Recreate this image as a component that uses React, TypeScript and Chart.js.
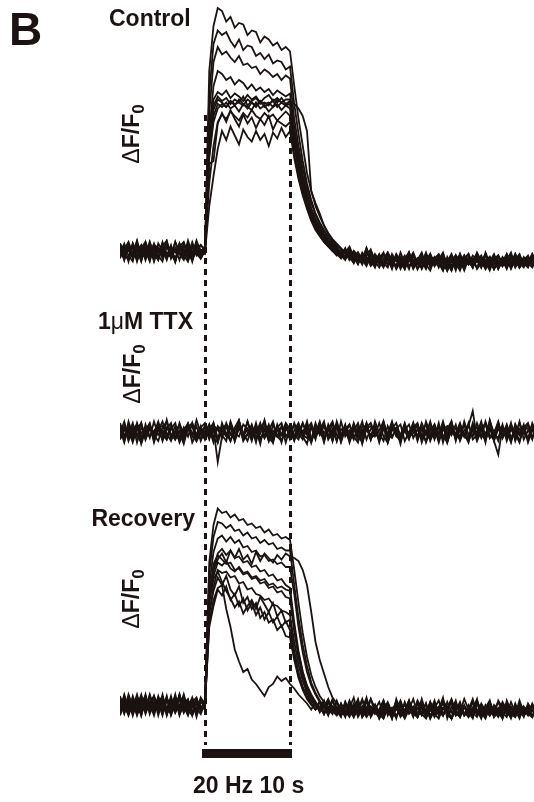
import React, { useEffect, useRef } from "react";
import { Chart, registerables } from "chart.js";

Chart.register(...registerables);

// ---- time axis (s); stimulus 20 Hz for 10 s starting at t = 0 ----
const TIME = [-10, -9.5, -9, -8.5, -8, -7.5, -7, -6.5, -6, -5.5, -5, -4.5, -4, -3.5, -3, -2.5, -2, -1.5, -1, -0.5, 0, 0.5, 1, 1.5, 2, 2.5, 3, 3.5, 4, 4.5, 5, 5.5, 6, 6.5, 7, 7.5, 8, 8.5, 9, 9.5, 10, 10.5, 11, 11.5, 12, 12.5, 13, 13.5, 14, 14.5, 15, 15.5, 16, 16.5, 17, 17.5, 18, 18.5, 19, 19.5, 20, 20.5, 21, 21.5, 22, 22.5, 23, 23.5, 24, 24.5, 25, 25.5, 26, 26.5, 27, 27.5, 28, 28.5, 29, 29.5, 30, 30.5, 31, 31.5, 32, 32.5, 33, 33.5, 34, 34.5, 35, 35.5, 36, 36.5, 37, 37.5, 38, 38.5, 39];
const STIM = [0, 10];

// ---- Control traces (ΔF/F0, %) ----
const CONTROL_1 = [3, -6, 5, -2, 7, -4, 1, -7, 4, 0, -3, 6, -5, 2, -1, 5, -6, 3, -2, 4, 1, 120, 150, 162, 160, 153, 156, 149, 152, 151, 144, 147, 146, 139, 143, 141, 137, 139, 134, 136, 133, 110, 88, 70, 52, 40, 30, 23, 17, 12, 8, 5, 2, -1, 3, -4, -1, -6, 2, -5, -8, -3, -9, -2, -7, -11, -4, -8, -1, -10, -5, -7, -12, -3, -9, -6, -1, -10, -4, -8, -13, -5, -2, -9, -6, -11, -3, -8, -5, -12, -7, -2, -9, -6, -10, -4, -8, -11, -5];
const CONTROL_2 = [-4, 2, -7, 5, -1, 3, -5, 6, -2, -6, 4, -3, 1, -7, 5, -2, 3, -4, 6, -1, -2, 105, 138, 147, 144, 146, 140, 136, 141, 134, 137, 136, 130, 132, 128, 131, 125, 127, 126, 121, 123, 98, 78, 60, 45, 34, 25, 19, 14, 9, 6, 3, -2, 1, -5, 0, -3, -7, 2, -6, -4, -9, -2, -6, -10, -3, -8, -5, -1, -11, -6, -4, -9, -13, -5, -2, -8, -7, -11, -3, -6, -10, -4, -8, -1, -7, -12, -5, -9, -3, -8, -6, -11, -2, -7, -9, -4, -10, -6];
const CONTROL_3 = [5, -1, -5, 3, -7, 2, 6, -3, 0, -6, 3, 7, -4, 1, -2, -6, 4, -1, 5, -3, 2, 92, 126, 136, 131, 133, 129, 126, 130, 124, 125, 122, 123, 118, 121, 119, 116, 118, 114, 117, 115, 88, 70, 55, 42, 32, 24, 18, 13, 9, 5, 2, -1, -4, 2, -6, -2, -8, -3, 1, -7, -5, -10, -2, -8, -4, -12, -6, -1, -9, -5, -7, -3, -11, -6, -8, -2, -10, -5, -13, -4, -7, -9, -3, -6, -11, -1, -8, -5, -10, -7, -4, -12, -6, -2, -9, -5, -8, -11];
const CONTROL_4 = [-5, 3, 1, -4, 6, -6, 2, -2, 5, -3, -7, 4, 0, -5, 3, 6, -2, -6, 1, 4, 0, 80, 110, 120, 118, 114, 116, 111, 114, 112, 108, 111, 107, 109, 106, 108, 104, 107, 105, 103, 105, 82, 65, 50, 38, 28, 21, 15, 11, 7, 4, 1, -3, 2, -5, -1, -7, -3, -9, 0, -6, -4, -8, -11, -2, -7, -5, -10, -3, -6, -12, -8, -1, -9, -5, -4, -11, -7, -2, -10, -6, -13, -5, -8, -3, -9, -6, -12, -4, -7, -10, -2, -8, -5, -11, -6, -3, -9, -7];
const CONTROL_5 = [2, -6, 4, -3, 1, -7, 5, -1, 3, -5, 6, -2, -4, 2, -6, 4, 0, -3, 7, -1, 3, 72, 101, 106, 104, 107, 102, 105, 103, 100, 104, 101, 103, 99, 102, 104, 100, 102, 99, 101, 101, 78, 62, 48, 36, 27, 20, 14, 10, 6, 3, 0, -4, 1, -6, -2, -8, -1, -5, -9, -3, -7, -2, -10, -6, -4, -11, -8, -3, -9, -5, -12, -6, -2, -8, -10, -4, -7, -13, -5, -9, -3, -8, -6, -11, -4, -10, -7, -2, -9, -6, -12, -5, -8, -3, -10, -7, -4, -9];
const CONTROL_6 = [4, -2, -6, 5, -3, 0, -5, 3, -7, 2, -1, 5, -4, 6, -2, -5, 3, -6, 1, -3, -1, 70, 97, 103, 100, 102, 98, 101, 99, 103, 97, 100, 102, 98, 99, 97, 101, 99, 102, 98, 100, 80, 64, 50, 38, 28, 21, 16, 11, 7, 4, 1, -2, -5, 0, -7, -3, -6, -10, -2, -8, -5, -1, -9, -4, -12, -7, -3, -10, -6, -8, -2, -11, -5, -9, -4, -7, -13, -6, -3, -10, -8, -5, -11, -2, -9, -6, -4, -12, -7, -10, -3, -8, -6, -11, -5, -9, -2, -7];
const CONTROL_7 = [-1, 5, -3, -7, 4, -2, 6, -5, 2, -4, 1, -6, 3, -1, 5, -3, -7, 2, 4, -2, 2, 68, 94, 101, 99, 96, 100, 97, 101, 98, 95, 99, 97, 100, 96, 98, 100, 96, 99, 97, 98, 76, 60, 46, 35, 26, 19, 13, 9, 5, 2, -1, -3, -6, 1, -4, -9, -2, -7, -5, -10, -3, -8, -1, -6, -11, -4, -9, -7, -2, -12, -5, -8, -3, -10, -6, -4, -13, -7, -9, -2, -11, -5, -8, -6, -3, -10, -7, -12, -4, -9, -6, -1, -10, -5, -8, -11, -4, -7];
const CONTROL_8 = [3, -3, 0, 4, -6, 2, -2, 6, -4, -1, 5, -5, 2, -7, 4, 1, -3, 6, -2, -5, 1, 64, 90, 98, 96, 99, 95, 97, 93, 98, 96, 94, 99, 95, 97, 93, 96, 98, 94, 97, 95, 72, 56, 43, 32, 24, 17, 12, 8, 4, 1, -2, 1, -5, -3, -8, -1, -6, -4, -10, -7, -2, -9, -5, -12, -3, -7, -10, -6, -1, -8, -11, -4, -9, -6, -3, -12, -7, -5, -10, -2, -8, -6, -11, -4, -9, -7, -13, -5, -3, -10, -6, -8, -2, -11, -7, -4, -9, -6];
const CONTROL_9 = [-4, 1, 6, -2, -5, 3, 0, -6, 4, 2, -3, 5, -1, -6, 3, -4, 7, -2, 1, -5, 0, 45, 70, 86, 91, 88, 93, 90, 87, 92, 89, 94, 90, 88, 92, 89, 91, 87, 90, 93, 90, 70, 54, 41, 30, 22, 16, 11, 7, 4, 1, -1, -4, 0, -6, -3, -8, -2, -5, -9, -4, -7, -11, -3, -6, -10, -1, -8, -5, -12, -7, -4, -9, -2, -10, -6, -8, -13, -3, -7, -11, -5, -9, -6, -2, -10, -8, -4, -12, -7, -5, -9, -3, -11, -6, -8, -10, -4, -7];
const CONTROL_10 = [5, -3, 2, -5, 0, 4, -6, 3, -1, 2, -4, 6, -2, -7, 3, 0, -5, 4, -3, 1, -1, 30, 50, 68, 80, 74, 83, 77, 71, 81, 76, 73, 80, 74, 78, 70, 79, 75, 82, 76, 80, 62, 48, 37, 28, 20, 14, 10, 6, 3, 0, -3, 1, -5, -2, -7, -4, -9, -1, -6, -11, -3, -8, -5, -10, -2, -7, -12, -4, -9, -6, -1, -10, -7, -4, -11, -5, -8, -13, -3, -9, -6, -2, -10, -7, -5, -12, -8, -4, -9, -6, -11, -3, -7, -10, -5, -8, -2, -9];
const CONTROL_11 = [-2, 0, 3, -4, 5, -1, 1, -6, 4, 2, -5, 3, -3, 6, -1, -4, 2, -7, 5, 0, 2, 62, 86, 95, 98, 96, 100, 98, 99, 97, 101, 99, 96, 100, 98, 99, 96, 101, 99, 97, 100, 98, 95, 90, 80, 40, 32, 25, 17, 11, 7, 4, 1, -2, -5, 0, -3, -7, -4, -8, -2, -6, -10, -5, -9, -3, -7, -12, -4, -8, -6, -11, -2, -9, -5, -7, -13, -4, -10, -6, -3, -9, -7, -11, -5, -8, -2, -10, -6, -12, -4, -7, -9, -3, -8, -11, -5, -6, -10];
const CONTROL_12 = [1, -5, 4, -2, 6, -4, -1, 3, -6, 5, 0, -3, 4, -7, 2, -2, 5, -4, 3, -1, 3, 58, 60, 85, 92, 86, 94, 88, 83, 91, 85, 89, 82, 88, 84, 90, 81, 87, 85, 83, 86, 64, 50, 38, 29, 21, 15, 10, 6, 3, 0, -2, -5, 1, -4, -8, -2, -6, -9, -3, -7, -11, -5, -1, -8, -4, -10, -6, -12, -3, -9, -7, -2, -10, -5, -8, -13, -6, -4, -11, -7, -3, -9, -5, -12, -8, -2, -10, -6, -4, -9, -7, -11, -3, -8, -5, -10, -6, -9];

// ---- 1 µM TTX traces ----
const TTX_1 = [3, -6, 7, -2, 5, -8, 1, 6, -4, 2, -5, 8, -3, 4, -7, 0, 6, -2, -6, 3, -1, 5, -4, -7, 6, -2, 3, -5, 7, -3, 2, -6, 4, -1, 8, -4, -7, 3, -2, 5, -5, 1, 6, -3, -8, 4, -1, 7, -4, 2, -6, 3, -2, 5, -7, 1, 6, -4, 3, -5, 7, -1, -6, 4, -3, 2, -8, 5, -2, 6, -4, 3, -7, 1, 5, -5, 2, -1, 7, -6, 4, -3, -5, 6, -2, 3, -7, 8, -1, -4, 5, -6, 2, -3, 7, -5, 1, 4, -2];
const TTX_2 = [-4, 2, -1, 6, -7, 3, -2, 5, -6, 1, 7, -3, 4, -5, 0, -8, 3, 6, -2, -4, 5, -1, 2, -20, -3, 4, -6, 1, 6, -5, -2, 3, -7, 5, -4, 1, 7, -3, -6, 2, 4, -5, 0, 6, -2, -7, 3, -1, 5, -4, 2, -6, 7, -3, 1, -5, 4, -8, 3, 6, -1, -4, 5, -7, 2, 6, -3, 1, -5, 4, -6, 3, -2, 7, -4, 0, 5, -7, 2, -1, 6, -3, 4, 14, -5, 1, -2, 7, -6, -15, 3, -4, 5, -1, -7, 4, 2, -5, 6];
const TTX_3 = [5, -3, 1, -7, 2, 6, -5, 4, -2, -6, 3, 7, -4, 0, -6, 2, 5, -3, 8, -1, -5, 2, -7, 4, 1, -3, 6, -6, 3, -2, 7, -4, 2, -8, 5, -1, -5, 3, 6, -3, 1, -6, 4, -2, 7, -5, 0, 3, -7, 5, -2, 6, -4, 1, -6, 3, -1, 7, -5, 2, 4, -7, 3, -3, 6, -2, -6, 1, 5, -4, 2, -5, 7, -1, -4, 6, -7, 3, 0, -3, 5, -2, -6, 4, -1, 7, -5, 2, -3, 6, -4, 1, -7, 5, -2, 3, -5, 6, -1];
const TTX_4 = [-1, 7, -4, 3, -2, -7, 5, -3, 1, 4, -6, 2, 6, -4, 1, -2, 5, -7, -1, 3, 6, -3, 2, -5, 4, -1, -6, 3, 8, -4, -2, 5, -4, 2, 7, -6, 1, -3, 4, -7, 3, -2, -5, 6, -1, 4, -3, 1, 7, -5, 0, 5, -6, 3, -4, 6, -2, -7, 2, 4, -3, 1, 7, -5, 2, -1, -6, 5, -4, 3, 6, -7, 1, -3, 5, -2, 4, -6, 2, -1, -5, 7, -2, 3, -6, 1, 5, -4, -1, 6, -3, 4, -6, 2, -2, 5, -7, 1, 3];
const TTX_5 = [2, -7, 4, 1, -3, 6, -5, 2, -1, 7, -2, -5, 3, -1, 5, -6, 2, -2, 4, -6, 1, -3, 6, -7, 2, 5, -2, -4, 7, -1, -6, 3, -1, 6, -4, 2, -7, 5, -2, 1, 4, -5, 2, -3, 6, -7, 3, -1, -4, 2, 7, -2, -5, 4, -1, 3, -6, 1, 5, -4, -2, 6, -3, -7, 4, 1, -5, 3, -1, 6, -4, 2, 5, -6, 1, -2, 7, -3, 4, -5, 3, -1, -7, 5, -3, 2, 6, -4, 1, -6, 4, -2, 3, -5, 6, -1, -4, 2, -3];
const TTX_6 = [-3, 4, -6, 2, 5, -1, 3, -4, 7, -2, 1, -5, 2, 6, -4, 3, -3, 6, -5, 1, -1, 5, -4, 3, -2, -6, 7, -1, -3, 5, 2, -4, 6, -5, 1, 4, -2, 3, -7, 4, -1, 5, -4, 1, 3, -5, 6, -2, 4, -3, 6, -6, 2, -1, 5, -3, -7, 4, 1, -2, 3, -5, 7, -2, -4, 2, 5, -6, 0, 4, -3, 6, -1, -5, 3, -7, 2, 4, -2, 5, -6, 1, 4, -3, 6, -2, -5, 3, -1, 7, -4, 2, -6, 5, -1, 3, -5, 1, 6];
const TTX_7 = [6, -2, 1, -5, 3, -4, 2, 5, -7, 3, 4, -1, -6, 1, 4, -5, 5, -1, -3, 4, -5, 2, 6, -4, 1, -2, 4, -6, 3, -3, 7, -1, 3, -4, -2, 5, -5, 1, 3, -2, -4, 6, -1, -5, 2, 6, -3, 5, -6, 3, -2, 4, -7, 2, 5, -4, 1, -3, 6, -5, 3, -6, 2, -1, 7, -3, -5, 4, -2, 1, 5, -4, -1, 6, -5, 3, -2, -7, 4, 2, -3, 5, -6, 1, 3, -4, 7, -2, -5, 4, 1, -3, 6, -6, 2, -1, 5, -4, 3];
const TTX_8 = [-5, 1, 3, -4, 6, -3, -1, 4, -3, 5, -1, 3, -2, -5, 6, -2, 1, 4, -6, -1, 3, -5, 4, 2, -4, 6, -1, -3, 5, -6, -1, 4, -5, 3, 2, -6, 5, -3, -2, 6, 2, -3, 5, -2, -4, 3, -5, 6, -1, 4, -6, 7, -2, 1, -4, 5, -3, -1, 6, -5, 2, -4, 4, -7, 1, 3, -2, 6, -3, -1, 5, -2, -6, 3, -1, 4, -5, 2, 7, -4, 1, -3, 6, -5, -2, 4, -1, 3, -6, 2, -2, 5, -4, 1, -6, 3, 6, -3, -1];

// ---- Recovery traces ----
const RECOVERY_1 = [4, -5, 7, -1, 2, -7, 5, -3, 6, -4, 1, -6, 3, -2, 7, -5, 0, 4, -8, 2, 1, 95, 120, 131, 128, 129, 125, 127, 123, 124, 120, 121, 118, 119, 115, 117, 113, 114, 111, 112, 110, 90, 68, 48, 32, 20, 12, 6, 2, -3, 4, -5, 1, -7, -2, 5, -6, -1, 3, -8, -3, 2, -6, -1, -9, 4, -4, -7, 0, -5, 3, -2, -8, 1, -6, -3, 5, -9, -1, -4, 2, -7, -3, 4, -6, -1, -8, 2, -5, -2, -9, 3, -4, -7, 1, -3, -6, 0, -8];
const RECOVERY_2 = [-3, 6, -5, 2, -1, 7, -4, 1, -7, 3, 5, -2, -6, 4, -1, 6, -3, -7, 2, -4, 0, 88, 112, 122, 121, 118, 120, 116, 117, 113, 115, 111, 112, 108, 110, 107, 108, 104, 105, 103, 103, 80, 58, 40, 26, 15, 8, 3, -1, 4, -4, -2, -7, 2, -5, 1, -8, -3, 5, -6, -1, -4, 3, -7, -2, -9, 1, -5, -3, 4, -6, -1, -8, 2, -4, -6, 3, -2, -9, 0, -5, 4, -3, -7, 1, -6, -2, 3, -8, -4, -1, -6, 2, -5, -3, -8, 1, -4, -2];
const RECOVERY_3 = [5, -1, -6, 3, -4, 1, 6, -6, 2, -3, 7, -5, 0, 4, -7, 2, -2, 5, -4, 1, 3, 80, 102, 111, 113, 109, 112, 108, 110, 105, 106, 102, 103, 99, 100, 96, 97, 94, 95, 92, 92, 74, 52, 35, 22, 13, 7, 2, -2, 3, -5, -1, -7, 2, -4, -8, 1, -3, -6, 4, -2, -9, -4, 0, -7, -3, 3, -5, -1, -8, 2, -6, -3, -9, 1, -4, -7, -2, 4, -5, -8, -1, -6, 2, -3, -9, 0, -4, -7, 3, -2, -5, -8, 1, -6, -3, -1, -7, -4];
const RECOVERY_4 = [-6, 2, 1, -4, 5, -7, 3, -1, -5, 6, -2, 4, -3, 7, -6, 0, 3, -5, 2, -1, -1, 70, 90, 97, 101, 95, 103, 98, 104, 97, 100, 94, 102, 96, 101, 98, 95, 100, 97, 101, 99, 98, 96, 90, 80, 62, 42, 30, 21, 12, 5, 1, -2, -5, 3, -4, -1, -6, 3, -4, -2, -7, 1, -5, -8, -2, 2, -6, -3, -1, -7, 4, -5, -2, -8, -3, 1, -6, -4, 3, -7, -1, -5, -9, 2, -3, -6, 0, -8, -4, 1, -6, -2, -7, 3, -5, -3, -8, -1];
const RECOVERY_5 = [1, -4, 5, -7, 2, -2, 7, -5, 0, -1, 3, -6, 4, -3, 6, -1, -7, 2, 5, -4, 4, 72, 94, 100, 97, 94, 95, 90, 91, 87, 88, 84, 85, 81, 82, 78, 79, 75, 76, 72, 71, 50, 34, 22, 13, 7, 2, -2, 3, -6, -1, -4, -8, 1, -5, -3, 4, -7, -2, -6, 0, -9, -3, 2, -5, -8, -1, -4, 3, -7, -2, -6, 1, -9, -4, -1, -7, 2, -5, -3, -8, 0, -6, -2, 3, -5, -9, -1, -4, -7, 2, -3, -6, -8, 1, -4, -2, -7, -5];
const RECOVERY_6 = [-4, 7, -2, 1, -6, 3, -1, 5, -3, 2, -7, 4, 0, -5, 6, -2, 3, -6, 1, -3, -2, 60, 79, 90, 88, 89, 85, 86, 81, 82, 77, 78, 74, 73, 70, 71, 67, 66, 63, 62, 60, 42, 27, 16, 8, 3, -1, 2, -5, -3, -6, 2, -4, -1, -7, -3, 1, -6, -2, 4, -5, -8, -1, -3, -6, 2, -4, -7, -2, -5, 1, -6, -9, -3, 0, -5, -7, -2, 3, -4, -8, -1, -6, -3, 2, -5, -7, 1, -4, -8, -2, 0, -6, -3, -9, -1, -5, -4, -7];
const RECOVERY_7 = [6, -4, 0, 3, -7, 1, -2, 6, -5, 3, -1, 5, -6, 2, -3, 7, -4, -1, 4, -2, 1, 70, 84, 89, 82, 76, 71, 65, 69, 61, 66, 70, 64, 72, 67, 62, 68, 59, 63, 55, 57, 36, 22, 12, 6, 1, -3, -1, -6, 3, -4, -2, -7, 0, -5, -3, 2, -8, -4, -1, -6, -3, 3, -5, -2, -7, -4, 0, -6, -3, -8, -1, -5, 2, -7, -4, -2, -6, -9, 1, -3, -5, -8, -2, -6, 0, -4, -7, -3, 2, -5, -8, -1, -6, -4, -3, -7, 1, -5];
const RECOVERY_8 = [-1, 3, -5, 6, -2, -6, 4, -3, 1, -4, 5, -7, 2, 0, -3, 6, -5, 3, -2, -6, 2, 62, 76, 85, 80, 86, 77, 73, 79, 68, 72, 64, 68, 58, 62, 55, 57, 50, 53, 46, 45, 30, 18, 10, 4, 0, -3, 2, -6, -1, -4, 3, -5, -7, -2, -6, 1, -3, -8, -4, 0, -5, -7, -2, -6, 2, -4, -9, -3, -1, -7, -5, 1, -8, -3, -6, -2, -4, 3, -7, -5, -1, -8, -3, -6, 1, -4, -2, -7, -5, -9, -2, -6, -3, 0, -7, -4, -8, -1];
const RECOVERY_9 = [2, -6, 3, -2, 7, -4, 1, -1, 5, -7, 3, -3, 6, -5, 0, 4, -6, 2, -4, 5, 0, 55, 70, 78, 80, 64, 52, 37, 29, 22, 24, 17, 14, 10, 6, 12, 14, 19, 16, 18, 14, 11, 7, 4, 1, -3, 2, -5, -1, -7, 3, -4, -2, -8, 1, -5, -3, 4, -6, -1, -4, -7, 2, -3, -6, -1, -8, -4, 3, -5, -2, -7, -3, 0, -6, -9, -2, -4, 2, -7, -5, -1, -6, -3, 4, -8, -2, -5, -1, -7, -4, 1, -6, -3, -8, -2, -5, -7, -3];
const RECOVERY_10 = [-5, 4, -1, -6, 5, 2, -3, 7, -2, 0, -4, 6, -7, 1, 3, -5, 2, -1, -6, 4, -1, 68, 86, 95, 93, 96, 91, 89, 92, 88, 89, 85, 86, 83, 84, 80, 81, 78, 79, 77, 76, 50, 32, 19, 10, 4, 0, -3, 2, -5, -2, -6, 1, -4, -8, -1, -5, 3, -3, -7, -2, -6, -9, 0, -4, -2, -7, 2, -5, -3, -8, -1, -6, -4, 3, -7, -2, -5, -9, -3, 0, -6, -4, -8, 2, -5, -1, -7, -3, -6, 1, -4, -8, -2, -5, -7, 0, -3, -6];
const RECOVERY_11 = [4, 0, -7, 2, -3, 6, -5, 2, -2, 5, -6, 3, -1, -4, 7, -2, 1, -5, 3, -3, 1, 52, 66, 77, 73, 79, 70, 74, 66, 71, 63, 68, 60, 65, 57, 62, 55, 59, 52, 56, 50, 33, 20, 11, 5, 1, -3, -1, -6, 2, -4, -7, -2, -5, 1, -8, -3, -6, 3, -4, -1, -7, -5, -2, -9, 0, -4, -6, 2, -3, -8, -1, -5, -7, -2, 3, -6, -4, -9, -1, -3, -7, 0, -5, -8, -2, -4, 2, -6, -3, -7, -1, -5, -8, -2, -6, -4, 0, -7];
const RECOVERY_12 = [-7, 1, 4, -3, 0, 5, -6, 2, 6, -1, 3, -4, -2, 6, -5, 1, 4, -7, 2, -3, 3, 76, 90, 101, 104, 100, 103, 98, 99, 95, 96, 92, 93, 89, 90, 86, 87, 83, 84, 80, 78, 55, 36, 22, 12, 6, 1, -3, 2, -6, -1, -4, -7, 1, -5, -2, 3, -8, -3, -6, 0, -5, -9, -2, -4, 2, -7, -3, -1, -6, -8, 1, -4, -7, -2, -5, 3, -6, -9, -3, -1, -7, -4, 2, -5, -8, -2, -6, 0, -4, -7, -3, -9, -1, -5, -2, -6, -8, -4];

const CONTROL_TRACES = [CONTROL_1, CONTROL_2, CONTROL_3, CONTROL_4, CONTROL_5, CONTROL_6, CONTROL_7, CONTROL_8, CONTROL_9, CONTROL_10, CONTROL_11, CONTROL_12];
const TTX_TRACES = [TTX_1, TTX_2, TTX_3, TTX_4, TTX_5, TTX_6, TTX_7, TTX_8];
const RECOVERY_TRACES = [RECOVERY_1, RECOVERY_2, RECOVERY_3, RECOVERY_4, RECOVERY_5, RECOVERY_6, RECOVERY_7, RECOVERY_8, RECOVERY_9, RECOVERY_10, RECOVERY_11, RECOVERY_12];

// ---- layout / style ----
const W = 534;
const H = 802;
const PLOT_LEFT = 120;
const PX_PER_SEC = 8.5;
const PX_PER_UNIT = 1.5;
const BASE_PX = { yC: 251, yT: 432, yR: 705 };
const DASH_TOP = 115;
const DASH_BOTTOM = 745;
const BAR_TOP = 749;
const BAR_H = 9;
const INK = "#1b1311";
const FONT = "'Liberation Sans', Arial, Helvetica, sans-serif";

function yRange(basePx: number) {
  const max = basePx / PX_PER_UNIT;
  return { min: max - H / PX_PER_UNIT, max };
}

const stimPlugin = {
  id: "stimMarks",
  beforeDatasetsDraw(chart: any) {
    const ctx = chart.ctx;
    const x = chart.scales.x;
    ctx.save();
    ctx.strokeStyle = INK;
    ctx.lineWidth = 3;
    ctx.setLineDash([6, 5]);
    STIM.forEach((t) => {
      const px = Math.round(x.getPixelForValue(t)) + 0.5;
      ctx.beginPath();
      ctx.moveTo(px, DASH_TOP);
      ctx.lineTo(px, DASH_BOTTOM);
      ctx.stroke();
    });
    ctx.restore();
  },
  afterDatasetsDraw(chart: any) {
    const ctx = chart.ctx;
    const x = chart.scales.x;
    const x0 = x.getPixelForValue(STIM[0]) - 3;
    const x1 = x.getPixelForValue(STIM[1]) + 2;
    ctx.save();
    ctx.fillStyle = INK;
    ctx.fillRect(x0, BAR_TOP, x1 - x0, BAR_H);
    ctx.restore();
  },
};

function makeSets(traces: number[][], axis: string) {
  return traces.map((tr, k) => ({
    label: axis + k,
    data: tr.slice(0, TIME.length).map((v, i) => ({ x: TIME[i], y: v })),
    yAxisID: axis,
    borderColor: INK,
    borderWidth: 1.8,
    borderJoinStyle: "miter" as const,
    pointRadius: 0,
    tension: 0,
    fill: false,
  }));
}

const labelStyle: React.CSSProperties = {
  position: "absolute",
  fontFamily: FONT,
  fontWeight: 700,
  fontSize: 23,
  lineHeight: 1,
  color: INK,
  whiteSpace: "nowrap",
};

function DeltaLabel({ cx, cy }: { cx: number; cy: number }) {
  return (
    <div
      style={{
        ...labelStyle,
        left: cx,
        top: cy,
        transform: "translate(-50%, -50%) rotate(-90deg)",
      }}
    >
      <span style={{ fontWeight: 400 }}>Δ</span>F/F
      <span style={{ fontSize: 17, position: "relative", top: 5 }}>0</span>
    </div>
  );
}

export default function App() {
  const ref = useRef<HTMLCanvasElement>(null);

  useEffect(() => {
    if (!ref.current) return;
    const xMax = -10 + (W - PLOT_LEFT) / PX_PER_SEC;
    const chart = new Chart(ref.current, {
      type: "line",
      data: {
        datasets: [
          ...makeSets(CONTROL_TRACES, "yC"),
          ...makeSets(TTX_TRACES, "yT"),
          ...makeSets(RECOVERY_TRACES, "yR"),
        ],
      },
      options: {
        animation: false,
        responsive: false,
        devicePixelRatio: 1,
        layout: { padding: { left: PLOT_LEFT, right: 0, top: 0, bottom: 0 } },
        plugins: { legend: { display: false }, tooltip: { enabled: false } },
        events: [],
        scales: {
          x: { type: "linear", min: -10, max: xMax, display: false },
          yC: { type: "linear", display: false, ...yRange(BASE_PX.yC) },
          yT: { type: "linear", display: false, ...yRange(BASE_PX.yT) },
          yR: { type: "linear", display: false, ...yRange(BASE_PX.yR) },
        },
      },
      plugins: [stimPlugin],
    });
    return () => chart.destroy();
  }, []);

  return (
    <div style={{ position: "absolute", left: 0, top: 0, width: W, height: H, background: "#fff", overflow: "hidden" }}>
      <canvas ref={ref} width={W} height={H} style={{ position: "absolute", left: 0, top: 0, width: W, height: H }} />
      <div style={{ ...labelStyle, fontSize: 46, left: 9, top: 6 }}>B</div>
      <div style={{ ...labelStyle, left: 109, top: 7 }}>Control</div>
      <div style={{ ...labelStyle, right: W - 193, top: 310 }}>
        1<span style={{ fontWeight: 400 }}>μ</span>M TTX
      </div>
      <div style={{ ...labelStyle, right: W - 195, top: 507 }}>Recovery</div>
      <div style={{ ...labelStyle, left: 193, top: 774 }}>20 Hz 10 s</div>
      <DeltaLabel cx={131} cy={134} />
      <DeltaLabel cx={132} cy={374} />
      <DeltaLabel cx={131} cy={599} />
    </div>
  );
}
